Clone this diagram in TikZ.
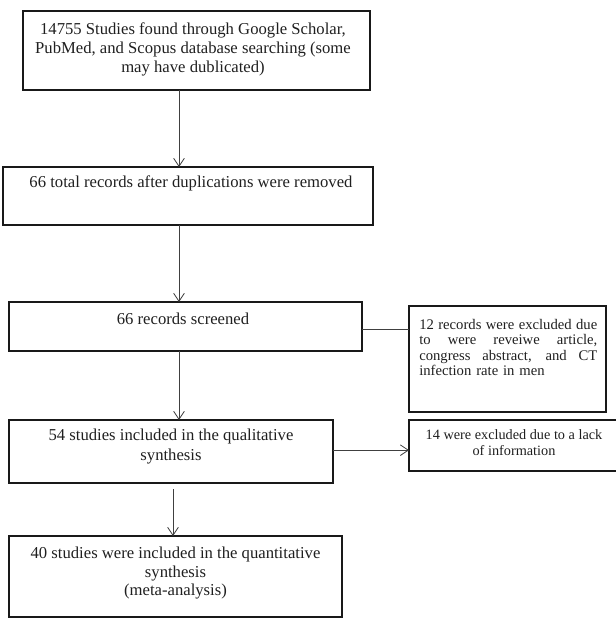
\documentclass[tikz,border=0pt]{standalone}
\usepackage{fontspec}
\setmainfont{Liberation Serif}
\usetikzlibrary{arrows.meta,calc}
\begin{document}
\begin{tikzpicture}[x=0.75pt,y=-0.75pt,
  box/.style={draw=black!90, line width=1.9pt, anchor=north west, inner sep=0pt, outer sep=0pt},
  main/.style={anchor=north, inner sep=0pt, align=center, font=\fontsize{12.5}{14.4}\selectfont, text=black!88},
  small/.style={inner sep=0pt, font=\fontsize{11}{11.5}\selectfont, text=black!88},
  conn/.style={draw=black!75, line width=0.6pt},
  arr/.style={conn, -{Straight Barb[length=6pt,width=8pt]}}]
\useasboundingbox (0,0) rectangle (616,618);
% boxes
\node[box, minimum width=347*0.75pt, minimum height=79*0.75pt] (b1) at (23,11) {};
\node[box, minimum width=370*0.75pt, minimum height=58*0.75pt] (b2) at (3,167) {};
\node[box, minimum width=353*0.75pt, minimum height=49*0.75pt] (b3) at (9,302) {};
\node[box, minimum width=197*0.75pt, minimum height=106*0.75pt] (b4) at (409,306) {};
\node[box, minimum width=324*0.75pt, minimum height=63*0.75pt] (b5) at (9,420) {};
\node[box, minimum width=211*0.75pt, minimum height=51*0.75pt] (b6) at (409,420) {};
\node[box, minimum width=333*0.75pt, minimum height=81*0.75pt] (b7) at (9,536) {};
% texts
\node[main] (t1) at (193,22) {14755 Studies found through Google Scholar,\\PubMed, and Scopus database searching (some\\may have dublicated)};
\node[main] (t2) at (191,175) {66 total records after duplications were removed};
\node[main] (t3) at (183,313) {66 records screened};
\node[small, anchor=north west, align=left, text width=133.5pt] (t4) at (419,319)
  {\makebox[133.5pt][s]{\spaceskip=0pt 12 records were excluded due}\\
   \makebox[133.5pt][s]{\spaceskip=0pt to were reveiwe article,}\\
   \makebox[133.5pt][s]{\spaceskip=0pt congress abstract, and CT}\\
   infection rate in men};
\node[main] (t5) at (171,429) {54 studies included in the qualitative\\synthesis};
\node[small, anchor=north, align=center, font=\fontsize{10.7}{12}\selectfont] (t6) at (514,429) {14 were excluded due to a lack\\of information};
\node[main, font=\fontsize{12.5}{13.9}\selectfont] (t7) at (175.5,547) {40 studies were included in the quantitative\\synthesis\\(meta-analysis)};
% connectors
\coordinate (cx) at (179,0);
\coordinate (cy) at (173,0);
\draw[arr] (cx |- b1.south) -- (cx |- b2.north);
\draw[arr] (cx |- b2.south) -- (cx |- b3.north);
\draw[conn] ([yshift=-2pt]b3.east) -- ([yshift=-2pt]b3.east -| b4.west);
\draw[arr] (cx |- b3.south) -- (cx |- b5.north);
\draw[arr] ([yshift=1pt]b5.east) -- ([yshift=1pt]b5.east -| b6.west);
\draw[arr, shorten <=4.5pt] (cy |- b5.south) -- (cy |- b7.north);
\end{tikzpicture}
\end{document}
